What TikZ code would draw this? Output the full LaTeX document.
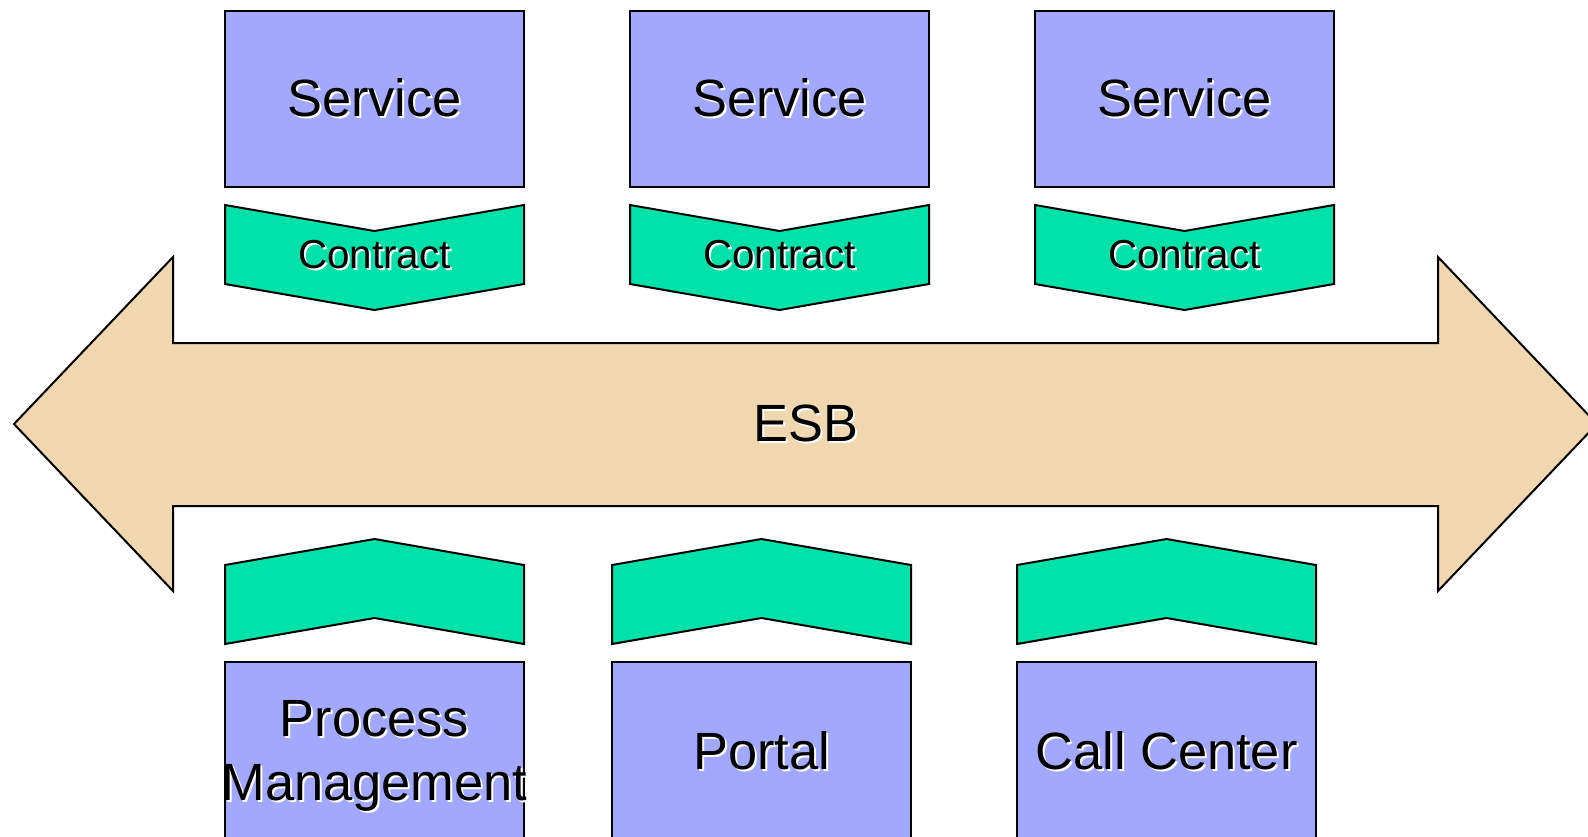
\documentclass[tikz,border=0pt]{standalone}
\usepackage{fontspec}
\setmainfont{Liberation Sans}
\usetikzlibrary{positioning}
\definecolor{servicefill}{HTML}{A1A8FE}
\definecolor{contractfill}{HTML}{00E2A9}
\definecolor{busfill}{HTML}{F0D7AF}
\newcommand{\shadowed}[1]{\makebox[0pt][l]{\hspace{1pt}\raisebox{-1pt}{\textcolor{white}{#1}}}#1}

\begin{document}
\begin{tikzpicture}[x=0.5pt, y=-0.5pt, line width=1pt,
	box/.style={draw, fill=servicefill, rectangle, minimum width=149.5pt,
		minimum height=88pt, inner sep=0pt, outer sep=0pt, anchor=north west,
		font=\fontsize{26.2}{32}\selectfont},
	lowbox/.style={box, minimum height=90pt},
	contractshape/.style={draw, fill=contractfill},
	bigtext/.style={font=\fontsize{26.2}{32}\selectfont, align=center, inner sep=0pt},
	smalltext/.style={font=\fontsize{20.2}{24}\selectfont, inner sep=0pt}]

			\useasboundingbox (0,0) rectangle (1588,836);
			\clip (0,0) rectangle (1588,836);

			% Service boxes
			\node (s1) [box] at (225,11) {\shadowed{Service}};
			\node (s2) [box, right=53pt of s1] {\shadowed{Service}};
			\node (s3) [box, right=53pt of s2] {\shadowed{Service}};

			% Contracts below the services
			\draw[contractshape] (s1.south west) ++(0,18) -- ++(149.5,26) -- ++(149.5,-26)
				-- ++(0,79) -- ++(-149.5,26) -- ++(-149.5,-26) -- cycle;
			\draw[contractshape] (s2.south west) ++(0,18) -- ++(149.5,26) -- ++(149.5,-26)
				-- ++(0,79) -- ++(-149.5,26) -- ++(-149.5,-26) -- cycle;
			\draw[contractshape] (s3.south west) ++(0,18) -- ++(149.5,26) -- ++(149.5,-26)
				-- ++(0,79) -- ++(-149.5,26) -- ++(-149.5,-26) -- cycle;
			\node (k1) [smalltext] at ([yshift=-34.5pt]s1.south) {\shadowed{Contract}};
			\node (k2) [smalltext] at ([yshift=-34.5pt]s2.south) {\shadowed{Contract}};
			\node (k3) [smalltext] at ([yshift=-34.5pt]s3.south) {\shadowed{Contract}};

			% The bus
			\draw[fill=busfill] (14,424) -- (173,257) -- (173,343) -- (1438,343)
				-- (1438,257) -- (1597,424) -- (1438,591) -- (1438,506)
				-- (173,506) -- (173,591) -- cycle;
			\node (esb) [bigtext] at (806,424) {\shadowed{ESB}};

			% Consumers
			\node (c1) [lowbox] at (225,662) {};
			\node (c2) [lowbox, right=44pt of c1] {\shadowed{Portal}};
			\node (c3) [lowbox, right=53pt of c2] {\shadowed{Call Center}};
			\node (pm) [bigtext] at ([yshift=-2.5pt]c1.center) {\shadowed{Process}\\\shadowed{Management}};

			% Contracts above the consumers
			\draw[contractshape] (c1.north west) ++(0,-18) -- ++(149.5,-26) -- ++(149.5,26)
				-- ++(0,-79) -- ++(-149.5,-26) -- ++(-149.5,26) -- cycle;
			\draw[contractshape] (c2.north west) ++(0,-18) -- ++(149.5,-26) -- ++(149.5,26)
				-- ++(0,-79) -- ++(-149.5,-26) -- ++(-149.5,26) -- cycle;
			\draw[contractshape] (c3.north west) ++(0,-18) -- ++(149.5,-26) -- ++(149.5,26)
				-- ++(0,-79) -- ++(-149.5,-26) -- ++(-149.5,26) -- cycle;

		\end{tikzpicture}
\end{document}
